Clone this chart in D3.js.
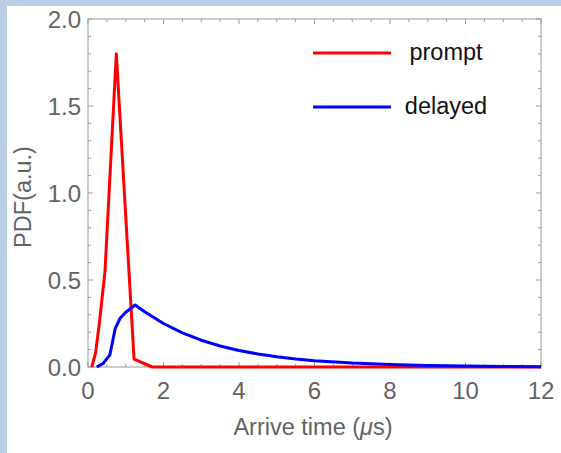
<!DOCTYPE html>
<html>
<head>
<meta charset="utf-8">
<script src="https://cdn.jsdelivr.net/npm/d3@7"></script>
<style>
  html, body { margin: 0; padding: 0; background: #b9cde5; }
  svg { display: block; }
  text { font-family: "Liberation Sans", Arial, sans-serif; }
</style>
</head>
<body>
<svg width="561" height="453"></svg>
<script>
// prompt 曲线
const promptX = [0.1, 0.2, 0.3, 0.45, 0.75, 1.22, 1.7, 12];
const promptY = [0, 0.08, 0.25, 0.55, 1.8, 0.045, 0, 0];

// delayed 曲线
const delayedX = [0.23, 0.4, 0.58, 0.72, 0.85, 1.0, 1.25, 1.5, 2, 2.5, 3, 3.5, 4, 4.5, 5, 5.5, 6, 7, 8, 9, 10, 11, 12];
const delayedY = [0, 0.02, 0.07, 0.22, 0.28, 0.315, 0.356, 0.318, 0.25, 0.196, 0.154, 0.121, 0.095, 0.075, 0.059, 0.046, 0.036, 0.0225, 0.014, 0.0086, 0.0053, 0.0033, 0.002];

const seriesNames = ["prompt", "delayed"];
const seriesColors = ["#ff0000", "#0000ff"];

const xTicks = [0, 2, 4, 6, 8, 10, 12];
const yTicks = [0.0, 0.5, 1.0, 1.5, 2.0];

const svg = d3.select("svg");

// 白色画布，左上留出浅蓝边
svg.append("rect")
  .attr("x", 7).attr("y", 6)
  .attr("width", 561 - 7).attr("height", 453 - 6)
  .attr("fill", "#ffffff");

const x = d3.scaleLinear().domain([0, 12]).range([88, 541]);
const y = d3.scaleLinear().domain([0, 2]).range([367, 19]);

const frameColor = "#9a9a9a";
const labelColor = "#636363";

// 刻度线（向内）
const g = svg.append("g");
const xMinor = d3.range(0, 12.001, 0.5);
const yMinor = d3.range(0, 2.001, 0.1);

function isMajor(v, step) {
  return Math.abs(v / step - Math.round(v / step)) < 1e-6;
}

xMinor.forEach((v) => {
  const len = isMajor(v, 2) ? 5 : 3;
  g.append("line").attr("x1", x(v)).attr("x2", x(v))
    .attr("y1", y(0)).attr("y2", y(0) - len)
    .attr("stroke", frameColor);
  g.append("line").attr("x1", x(v)).attr("x2", x(v))
    .attr("y1", y(2)).attr("y2", y(2) + len)
    .attr("stroke", frameColor);
});
yMinor.forEach((v) => {
  const len = isMajor(v, 0.5) ? 5 : 3;
  g.append("line").attr("x1", x(0)).attr("x2", x(0) + len)
    .attr("y1", y(v)).attr("y2", y(v))
    .attr("stroke", frameColor);
  g.append("line").attr("x1", x(12)).attr("x2", x(12) - len)
    .attr("y1", y(v)).attr("y2", y(v))
    .attr("stroke", frameColor);
});

// 边框
g.append("rect")
  .attr("x", x(0)).attr("y", y(2))
  .attr("width", x(12) - x(0)).attr("height", y(0) - y(2))
  .attr("fill", "none").attr("stroke", frameColor).attr("stroke-width", 1);

// 刻度标签
g.selectAll(".xt").data(xTicks).enter().append("text")
  .attr("x", (d) => x(d)).attr("y", 399)
  .attr("text-anchor", "middle")
  .attr("font-size", 24).attr("fill", labelColor)
  .text((d) => d);

g.selectAll(".yt").data(yTicks).enter().append("text")
  .attr("x", 81).attr("y", (d) => y(d) + 8.5)
  .attr("text-anchor", "end")
  .attr("font-size", 24).attr("fill", labelColor)
  .text((d) => d.toFixed(1));

// 轴标题
const xt = g.append("text")
  .attr("x", 313).attr("y", 435)
  .attr("text-anchor", "middle")
  .attr("font-size", 23.5).attr("fill", labelColor);
xt.append("tspan").text("Arrive time (");
xt.append("tspan").attr("font-style", "italic").text("μ");
xt.append("tspan").text("s)");

g.append("text")
  .attr("transform", "translate(31," + 197 + ") rotate(-90)")
  .attr("text-anchor", "middle")
  .attr("font-size", 23.5).attr("fill", labelColor)
  .text("PDF(a.u.)");

// 曲线
const line = d3.line()
  .x((d) => x(d[0]))
  .y((d) => y(d[1]));

const promptData = promptX.map((v, i) => [v, promptY[i]]);
const delayedData = delayedX.map((v, i) => [v, delayedY[i]]);

svg.append("path").datum(promptData)
  .attr("d", line)
  .attr("fill", "none").attr("stroke", seriesColors[0])
  .attr("stroke-width", 3).attr("stroke-linejoin", "round");

svg.append("path").datum(delayedData)
  .attr("d", line)
  .attr("fill", "none").attr("stroke", seriesColors[1])
  .attr("stroke-width", 3).attr("stroke-linejoin", "round");

// 图例
const legend = svg.append("g");
seriesNames.forEach((name, i) => {
  const ly = 53 + i * 54;
  legend.append("line")
    .attr("x1", 313).attr("x2", 391)
    .attr("y1", ly).attr("y2", ly)
    .attr("stroke", seriesColors[i]).attr("stroke-width", 3);
  legend.append("text")
    .attr("x", 446).attr("y", ly + 7)
    .attr("text-anchor", "middle")
    .attr("font-size", 23.5).attr("fill", "#111111")
    .text(name);
});
</script>
</body>
</html>
